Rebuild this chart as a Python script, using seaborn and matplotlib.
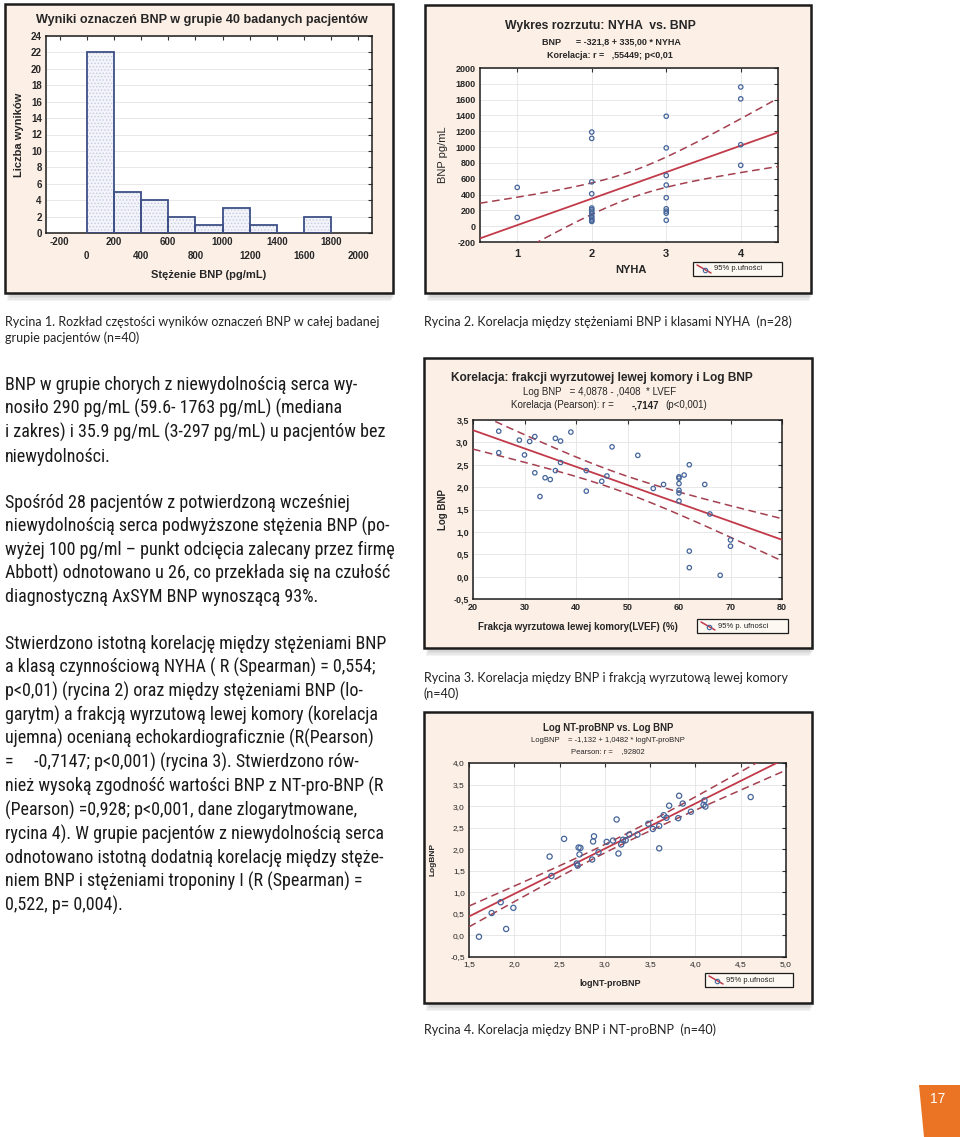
import numpy as np
import matplotlib
matplotlib.use("Agg")
import matplotlib.pyplot as plt
import seaborn as sns
from matplotlib import font_manager
from matplotlib.patches import Rectangle, Polygon
from matplotlib.lines import Line2D
from matplotlib.ticker import FuncFormatter, MultipleLocator

# ---------------- data ----------------
# Rycina 1: histogram of BNP (bins of 200 pg/mL)
bin_edges = [0, 200, 400, 600, 800, 1000, 1200, 1400, 1600, 1800]
bin_counts = [22, 5, 4, 2, 1, 3, 1, 0, 2]

# Rycina 2: NYHA class vs BNP (n=28)
nyha_class = [1, 1,
              2, 2, 2, 2, 2, 2, 2, 2, 2, 2, 2, 2, 2,
              3, 3, 3, 3, 3, 3, 3, 3, 3,
              4, 4, 4, 4]
nyha_bnp = [490, 110,
            1190, 1110, 560, 410, 230, 210, 190, 160, 130, 110, 90, 70, 60,
            1390, 990, 640, 520, 360, 220, 190, 165, 75,
            1760, 1610, 1030, 770]
nyha_coef = [-321.8, 335.00]

# Rycina 3: LVEF vs log BNP (n=40)
lvef = [25, 25, 29, 30, 31, 32, 32, 33, 34, 35, 36, 36, 37, 37, 39, 42, 42, 45, 46, 47,
        52, 55, 57, 60, 60, 60, 60, 60, 60, 61, 62, 62, 62, 65, 66, 68, 70, 70]
lvef_logbnp = [3.25, 2.77, 3.05, 2.72, 3.02, 3.13, 2.32, 1.79, 2.21, 2.17, 3.09, 2.37, 3.03,
               2.55, 3.23, 2.37, 1.91, 2.13, 2.25, 2.90, 2.71, 1.97, 2.06, 2.23, 2.20, 2.08,
               1.93, 1.87, 1.69, 2.27, 2.50, 0.57, 0.20, 2.06, 1.40, 0.03, 0.82, 0.68]
lvef_coef = [4.0878, -0.0408]

# Rycina 4: log NT-proBNP vs log BNP (n=40)
ntpro_log = [1.61, 1.75, 1.85, 1.91, 1.99, 2.39, 2.41, 2.55, 2.69, 2.70, 2.71, 2.72, 2.73,
             2.86, 2.87, 2.88, 2.93, 3.02, 3.09, 3.13, 3.15, 3.18, 3.20, 3.23, 3.27, 3.36,
             3.48, 3.53, 3.60, 3.60, 3.65, 3.68, 3.71, 3.81, 3.82, 3.86, 3.95, 4.09, 4.10,
             4.11, 4.61]
ntpro_logbnp = [-0.03, 0.52, 0.77, 0.15, 0.64, 1.83, 1.38, 2.24, 1.67, 1.62, 2.04, 1.88, 2.03,
                1.76, 2.18, 2.30, 1.93, 2.17, 2.20, 2.69, 1.90, 2.11, 2.22, 2.21, 2.34, 2.34,
                2.59, 2.47, 2.02, 2.54, 2.79, 2.73, 3.01, 2.72, 3.24, 3.06, 2.87, 3.03, 3.13,
                2.99, 3.21]
ntpro_coef = [-1.132, 1.0482]

# body text of the page
para1 = ["BNP w grupie chorych z niewydolnością serca wy-",
         "nosiło 290 pg/mL (59.6- 1763 pg/mL) (mediana",
         "i zakres) i 35.9 pg/mL (3-297 pg/mL) u pacjentów bez",
         "niewydolności."]
para2 = ["Spośród 28 pacjentów z potwierdzoną wcześniej",
         "niewydolnością serca podwyższone stężenia BNP (po-",
         "wyżej 100 pg/ml – punkt odcięcia zalecany przez firmę",
         "Abbott) odnotowano u 26, co przekłada się na czułość",
         "diagnostyczną AxSYM BNP wynoszącą 93%."]
para3 = ["Stwierdzono istotną korelację między stężeniami BNP",
         "a klasą czynnościową NYHA ( R (Spearman) = 0,554;",
         "p<0,01) (rycina 2) oraz między stężeniami BNP (lo-",
         "garytm) a frakcją wyrzutową lewej komory (korelacja",
         "ujemna) ocenianą echokardiograficznie (R(Pearson)",
         "=     -0,7147; p<0,001) (rycina 3). Stwierdzono rów-",
         "nież wysoką zgodność wartości BNP z NT-pro-BNP (R",
         "(Pearson) =0,928; p<0,001, dane zlogarytmowane,",
         "rycina 4). W grupie pacjentów z niewydolnością serca",
         "odnotowano istotną dodatnią korelację między stęże-",
         "niem BNP i stężeniami troponiny I (R (Spearman) =",
         "0,522, p= 0,004)."]

# ---------------- style ----------------
sns.set_theme(style="white")
plt.rcParams["font.family"] = ["Liberation Sans", "DejaVu Sans"]
plt.rcParams["axes.unicode_minus"] = False
plt.rcParams["hatch.linewidth"] = 0.6
plt.rcParams["hatch.color"] = "#c4cbe0"

W, H = 960, 1137
fig = plt.figure(figsize=(W / 100, H / 100), dpi=100)
fig.patch.set_facecolor("white")

PANEL_BG = "#fcefe6"
BORDER = "#1c1c1c"
NAVY = "#3d4f86"
PT = "#45659a"
RED = "#c23a4a"
DRED = "#a4404f"
CAP = ["Lato", "DejaVu Sans"]

installed = {f.name for f in font_manager.fontManager.ttflist}
body_family = "Liberation Sans"
for cand in ["Roboto Condensed", "Liberation Sans Narrow", "DejaVu Sans Condensed",
             "Open Sans Condensed", "Liberation Sans"]:
    if cand in installed:
        body_family = cand
        break
BODY = [body_family, "DejaVu Sans"]


def fx(x):
    return x / W


def fy(y):
    return 1 - y / H


def add_ax(x0, y0, x1, y1):
    return fig.add_axes([x0 / W, 1 - y1 / H, (x1 - x0) / W, (y1 - y0) / H])


def panel(x0, y0, x1, y1):
    for k in range(5):
        off = 2 + k * 1.6
        fig.patches.append(Rectangle((fx(x0 + 6 - k), fy(y1 + off)), (x1 - x0 - 4) / W,
                                     (y1 - y0) / H, transform=fig.transFigure,
                                     facecolor="#606060", edgecolor="none", alpha=0.07,
                                     zorder=-3))
    fig.patches.append(Rectangle((fx(x0), fy(y1)), (x1 - x0) / W, (y1 - y0) / H,
                                 transform=fig.transFigure, facecolor=PANEL_BG,
                                 edgecolor=BORDER, linewidth=1.8, zorder=-2))


def legend_box(x0, y0, x1, y1, label, fs):
    fig.patches.append(Rectangle((fx(x0), fy(y1)), (x1 - x0) / W, (y1 - y0) / H,
                                 transform=fig.transFigure, facecolor="#fdf8f2",
                                 edgecolor=BORDER, linewidth=0.9, zorder=2))
    ym = (y0 + y1) / 2
    fig.lines.append(Line2D([fx(x0 + 4), fx(x0 + 18)], [fy(ym - 4), fy(ym + 4)],
                            transform=fig.transFigure, color=RED, lw=1.1, zorder=3))
    fig.lines.append(Line2D([fx(x0 + 12)], [fy(ym + 1)], transform=fig.transFigure,
                            marker="o", ms=3.2, mfc="none", mec=PT, mew=0.8, zorder=4))
    fig.text(fx(x0 + 21), fy(ym), label, fontsize=fs, va="center", ha="left",
             color="#222222", zorder=5)


def style_axes(ax, grid_x=True):
    ax.set_facecolor("white")
    for sp in ax.spines.values():
        sp.set_color(BORDER)
        sp.set_linewidth(1.1)
    ax.tick_params(direction="in", top=True, right=True, length=3, width=0.8,
                   color="#333333", pad=3)
    ax.grid(True, axis="y", color="#e4e4e4", lw=0.6)
    if grid_x:
        ax.grid(True, axis="x", color="#e4e4e4", lw=0.6)
    ax.set_axisbelow(True)


def comma(fmt):
    return FuncFormatter(lambda v, p: (fmt % v).replace(".", ","))


def bands(ax, xdat, ydat, coef, xlim):
    xdat = np.asarray(xdat, float)
    ydat = np.asarray(ydat, float)
    a, b = coef
    n = len(xdat)
    res = ydat - (a + b * xdat)
    s = np.sqrt(np.sum(res ** 2) / (n - 2))
    sxx = np.sum((xdat - xdat.mean()) ** 2)
    t = 1.96 + 2.5 / (n - 2)
    xs = np.linspace(xlim[0], xlim[1], 300)
    fit = a + b * xs
    se = s * np.sqrt(1 / n + (xs - xdat.mean()) ** 2 / sxx)
    ax.plot(xs, fit, color=RED, lw=1.3, zorder=3)
    ax.plot(xs, fit + t * se, color=DRED, lw=1.1, ls=(0, (5, 3)), zorder=3)
    ax.plot(xs, fit - t * se, color=DRED, lw=1.1, ls=(0, (5, 3)), zorder=3)


def scatter(ax, x, y, s=14):
    sns.scatterplot(x=x, y=y, ax=ax, color=PT, s=s, marker="o", zorder=4, legend=False)
    coll = ax.collections[-1]
    coll.set_facecolor("none")
    coll.set_edgecolor(PT)
    coll.set_linewidth(0.9)


# ---------------- panels ----------------
panel(5, 4, 393, 293)
panel(425, 5, 811, 293)
panel(424, 358, 812, 648)
panel(424, 712, 812, 1003)

# ----- Rycina 1: histogram -----
ax1 = add_ax(46, 36, 372, 233)
style_axes(ax1, grid_x=False)
centers = [(bin_edges[i] + bin_edges[i + 1]) / 2 for i in range(len(bin_counts))]
sns.histplot(x=centers, weights=bin_counts, bins=bin_edges, ax=ax1, color="#f2f4fa",
             alpha=1, edgecolor="#c4cbe0", linewidth=0, hatch=".....", zorder=2)
sns.histplot(x=centers, weights=bin_counts, bins=bin_edges, ax=ax1, fill=False,
             color=NAVY, linewidth=1.3, zorder=3)
ax1.set_xlim(-300, 2100)
ax1.set_ylim(0, 24)
ax1.yaxis.set_major_locator(MultipleLocator(2))
xt = list(range(-200, 2001, 200))
ax1.set_xticks(xt)
ax1.set_xticklabels([("%d" % v) if (v // 200) % 2 else ("\n%d" % v) for v in xt],
                    fontsize=7, fontweight="bold", linespacing=1.5)
for lab in ax1.get_yticklabels():
    lab.set_fontsize(7)
    lab.set_fontweight("bold")
ax1.set_xlabel("")
ax1.set_ylabel("")
fig.text(fx(202), fy(20), "Wyniki oznaczeń BNP w grupie 40 badanych pacjentów",
         fontsize=9.1, fontweight="bold", ha="center", va="center")
fig.text(fx(19), fy(135), "Liczba wyników", rotation=90, fontsize=8, fontweight="bold",
         ha="center", va="center")
fig.text(fx(209), fy(275), "Stężenie BNP (pg/mL)", fontsize=8, fontweight="bold",
         ha="center", va="center")

# ----- Rycina 2: NYHA vs BNP -----
ax2 = add_ax(480, 68, 778, 242)
style_axes(ax2)
scatter(ax2, nyha_class, nyha_bnp, s=10)
bands(ax2, nyha_class, nyha_bnp, nyha_coef, (0.5, 4.5))
ax2.set_xlim(0.5, 4.5)
ax2.set_ylim(-200, 2000)
ax2.set_xticks([1, 2, 3, 4])
ax2.yaxis.set_major_locator(MultipleLocator(200))
for lab in ax2.get_xticklabels():
    lab.set_fontsize(8)
    lab.set_fontweight("bold")
for lab in ax2.get_yticklabels():
    lab.set_fontsize(6.5)
    lab.set_fontweight("bold")
ax2.tick_params(axis="x", pad=5)
ax2.set_xlabel("")
ax2.set_ylabel("")
fig.text(fx(600), fy(26), "Wykres rozrzutu: NYHA  vs. BNP", fontsize=8.8,
         fontweight="bold", ha="center", va="center")
fig.text(fx(611), fy(42), "BNP      = -321,8 + 335,00 * NYHA", fontsize=6.5,
         fontweight="bold", ha="center", va="center")
fig.text(fx(610), fy(56), "Korelacja: r =   ,55449; p<0,01", fontsize=6.5,
         fontweight="bold", ha="center", va="center")
fig.text(fx(443), fy(155), "BNP pg/mL", rotation=90, fontsize=8, ha="center",
         va="center")
fig.text(fx(631), fy(270), "NYHA", fontsize=8, fontweight="bold", ha="center",
         va="center")
legend_box(693, 262, 782, 276, "95% p.ufności", 5.5)

# ----- Rycina 3: LVEF vs log BNP -----
ax3 = add_ax(473, 420, 782, 599)
style_axes(ax3)
scatter(ax3, lvef, lvef_logbnp, s=10)
bands(ax3, lvef, lvef_logbnp, lvef_coef, (20, 80))
ax3.set_xlim(20, 80)
ax3.set_ylim(-0.5, 3.5)
ax3.xaxis.set_major_locator(MultipleLocator(10))
ax3.yaxis.set_major_locator(MultipleLocator(0.5))
ax3.yaxis.set_major_formatter(comma("%.1f"))
for lab in ax3.get_xticklabels() + ax3.get_yticklabels():
    lab.set_fontsize(6.5)
    lab.set_fontweight("bold")
ax3.set_xlabel("")
ax3.set_ylabel("")
fig.text(fx(602), fy(378), "Korelacja: frakcji wyrzutowej lewej komory i Log BNP",
         fontsize=8.6, fontweight="bold", ha="center", va="center")
fig.text(fx(600), fy(392), "Log BNP   = 4,0878 - ,0408  * LVEF", fontsize=7,
         ha="center", va="center")
fig.text(fx(511), fy(405), "Korelacja (Pearson): r = ", fontsize=7, ha="left",
         va="center")
fig.text(fx(632), fy(405), "-,7147", fontsize=7, fontweight="bold", ha="left",
         va="center")
fig.text(fx(665), fy(405), "(p<0,001)", fontsize=7, ha="left", va="center")
fig.text(fx(443), fy(510), "Log BNP", rotation=90, fontsize=7, fontweight="bold",
         ha="center", va="center")
fig.text(fx(578), fy(627), "Frakcja wyrzutowa lewej komory(LVEF) (%)", fontsize=7,
         fontweight="bold", ha="center", va="center")
legend_box(697, 619, 788, 633, "95% p. ufności", 5.5)

# ----- Rycina 4: log NT-proBNP vs log BNP -----
ax4 = add_ax(469, 763, 786, 957)
style_axes(ax4)
scatter(ax4, ntpro_log, ntpro_logbnp, s=14)
bands(ax4, ntpro_log, ntpro_logbnp, ntpro_coef, (1.5, 5.0))
ax4.set_xlim(1.5, 5.0)
ax4.set_ylim(-0.5, 4.0)
ax4.xaxis.set_major_locator(MultipleLocator(0.5))
ax4.yaxis.set_major_locator(MultipleLocator(0.5))
ax4.xaxis.set_major_formatter(comma("%.1f"))
ax4.yaxis.set_major_formatter(comma("%.1f"))
for lab in ax4.get_xticklabels() + ax4.get_yticklabels():
    lab.set_fontsize(6)
ax4.set_xlabel("")
ax4.set_ylabel("")
fig.text(fx(608), fy(728), "Log NT-proBNP vs. Log BNP", fontsize=6.9, fontweight="bold",
         ha="center", va="center")
fig.text(fx(608), fy(741), "LogBNP    = -1,132 + 1,0482 * logNT-proBNP", fontsize=5.5,
         ha="center", va="center")
fig.text(fx(608), fy(752), "Pearson: r =    ,92802", fontsize=5.5, ha="center",
         va="center")
fig.text(fx(433), fy(860), "LogBNP", rotation=90, fontsize=6, fontweight="bold",
         ha="center", va="center")
fig.text(fx(610), fy(983), "logNT-proBNP", fontsize=6.5, fontweight="bold",
         ha="center", va="center")
legend_box(705, 973, 793, 987, "95% p.ufności", 5.5)

# ---------------- captions ----------------
cap_kw = dict(fontsize=9, family=CAP, color="#222222", va="baseline", ha="left")
fig.text(fx(5), fy(326), "Rycina 1. Rozkład częstości wyników oznaczeń BNP w całej badanej",
         **cap_kw)
fig.text(fx(5), fy(342), "grupie pacjentów (n=40)", **cap_kw)
fig.text(fx(424), fy(326), "Rycina 2. Korelacja między stężeniami BNP i klasami NYHA  (n=28)",
         **cap_kw)
fig.text(fx(424), fy(682), "Rycina 3. Korelacja między BNP i frakcją wyrzutową lewej komory",
         **cap_kw)
fig.text(fx(424), fy(698), "(n=40)", **cap_kw)
fig.text(fx(424), fy(1034), "Rycina 4. Korelacja między BNP i NT-proBNP  (n=40)", **cap_kw)

# ---------------- body text ----------------
# size the body font so that the first line spans the column width of the page
renderer = fig.canvas.get_renderer()
probe = fig.text(0, 0, para1[0], fontsize=13, family=BODY)
wpx = probe.get_window_extent(renderer=renderer).width
probe.remove()
body_size = min(13.0, 13.0 * 360.0 / wpx)

body_kw = dict(fontsize=body_size, family=BODY, color="#1a1a1a", va="baseline", ha="left")
for start, lines, step in [(390, para1, 24.0), (508, para2, 23.5), (649, para3, 23.8)]:
    for i, line in enumerate(lines):
        fig.text(fx(5), fy(start + i * step), line, **body_kw)

# ---------------- page number ----------------
fig.patches.append(Polygon([(fx(919), fy(1085)), (fx(960), fy(1085)), (fx(960), fy(1137)),
                            (fx(924), fy(1137))], closed=True, transform=fig.transFigure,
                           facecolor="#ea7424", edgecolor="none", zorder=1))
fig.text(fx(938), fy(1099), "17", fontsize=10, color="white", ha="center", va="center")

fig.savefig("out.png", dpi=100, facecolor="white")
